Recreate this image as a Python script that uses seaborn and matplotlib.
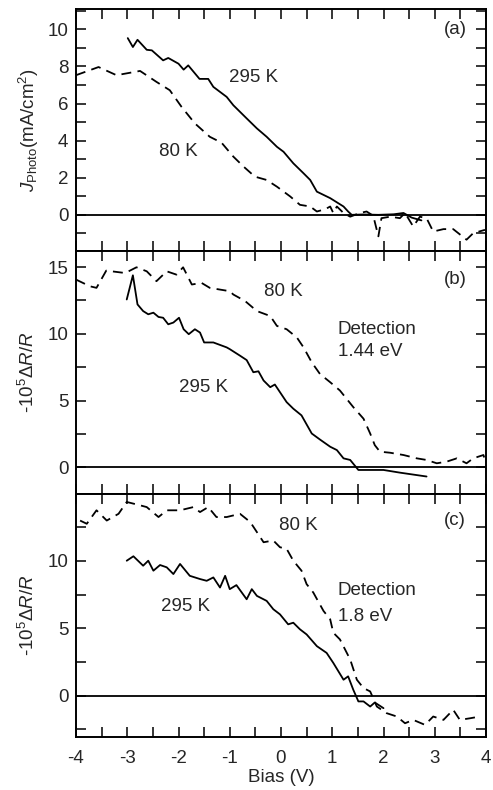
import numpy as np
import pandas as pd
import matplotlib
matplotlib.use("Agg")
import matplotlib.pyplot as plt
import seaborn as sns
from matplotlib.ticker import MultipleLocator

sns.set_style("ticks")
plt.rcParams['font.family'] = ['Liberation Sans', 'DejaVu Sans']
plt.rcParams['mathtext.fontset'] = 'custom'
plt.rcParams['mathtext.rm'] = 'Liberation Sans'
plt.rcParams['mathtext.it'] = 'Liberation Sans:italic'
plt.rcParams['mathtext.sf'] = 'Liberation Sans'

# ---------------- Panel (a): photocurrent ----------------
a295_x = [-2.99, -2.89, -2.80, -2.62, -2.52, -2.30, -2.20, -2.00, -1.90, -1.81, -1.59, -1.42,
          -1.32, -1.06, -0.93, -0.67, -0.47, -0.28, -0.08, 0.05, 0.24, 0.44, 0.57, 0.70, 0.96,
          1.22, 1.31, 1.38, 1.60, 1.90, 2.20, 2.39, 2.55, 2.74]
a295_y = [9.53, 9.05, 9.44, 8.90, 8.87, 8.33, 8.46, 8.15, 7.83, 8.06, 7.33, 7.33,
          6.90, 6.36, 5.91, 5.20, 4.66, 4.21, 3.67, 3.40, 2.78, 2.24, 1.88, 1.25, 0.90,
          0.45, 0.18, 0.00, 0.02, 0.00, 0.03, 0.10, -0.15, -0.30]
a80_x = [-4.00, -3.56, -3.21, -2.75, -2.43, -2.17, -1.94, -1.68, -1.39, -1.16, -0.93, -0.73,
         -0.51, -0.28, -0.08, 0.18, 0.37, 0.57, 0.70, 0.86, 0.96, 1.02, 1.09, 1.22, 1.35,
         1.54, 1.67, 1.80, 1.90, 1.96, 2.13, 2.32, 2.42, 2.58, 2.71, 2.84, 2.97, 3.17,
         3.36, 3.62, 3.75, 3.98]
a80_y = [7.53, 7.97, 7.53, 7.76, 7.17, 6.72, 5.82, 4.93, 4.21, 3.89, 3.14, 2.60,
         2.06, 1.88, 1.52, 0.99, 0.54, 0.45, 0.18, 0.30, 0.45, 0.10, 0.45, 0.10, -0.10,
         0.10, 0.18, -0.05, -1.16, -0.18, -0.10, -0.18, 0.10, -0.63, -0.10, -0.18, -0.90, -0.77,
         -0.77, -1.34, -0.99, -0.81]

# ---------------- Panel (b): detection 1.44 eV ----------------
b295_x = [-3.01, -2.89, -2.80, -2.69, -2.59, -2.49, -2.39, -2.30, -2.20, -2.10, -1.99, -1.90,
          -1.80, -1.68, -1.58, -1.50, -1.32, -1.06, -1.00, -0.80, -0.67, -0.54, -0.44, -0.34,
          -0.21, -0.12, 0.11, 0.24, 0.40, 0.60, 0.76, 0.96, 1.09, 1.22, 1.35, 1.51, 2.00,
          2.32, 2.84]
b295_y = [12.57, 14.38, 12.20, 11.70, 11.46, 11.58, 11.26, 11.20, 10.71, 10.84, 11.20, 10.34,
          9.97, 10.34, 10.09, 9.35, 9.35, 8.98, 8.85, 8.36, 8.03, 7.12, 7.19, 6.50,
          6.00, 6.20, 4.88, 4.39, 3.89, 2.53, 2.08, 1.54, 1.29, 0.67, 0.55, -0.20, -0.20,
          -0.40, -0.69]
b80_x = [-4.00, -3.73, -3.60, -3.41, -3.04, -2.82, -2.62, -2.43, -2.23, -2.04, -1.91, -1.74,
         -1.55, -1.39, -1.19, -1.00, -0.93, -0.70, -0.47, -0.21, -0.08, 0.11, 0.31, 0.44,
         0.60, 0.76, 0.96, 1.15, 1.41, 1.61, 1.74, 1.83, 1.93, 2.13, 2.39, 2.65, 2.84,
         3.04, 3.23, 3.43, 3.62, 3.75, 3.95, 4.00]
b80_y = [14.06, 13.56, 13.44, 14.73, 14.55, 14.98, 14.68, 13.94, 14.68, 14.43, 14.98, 13.69,
         13.81, 13.44, 13.31, 13.19, 12.94, 12.45, 11.70, 11.33, 10.59, 10.34, 9.72, 8.98,
         7.86, 6.99, 6.37, 5.75, 4.51, 3.64, 2.53, 1.66, 1.17, 1.09, 0.92, 0.67, 0.55,
         0.30, 0.42, 0.67, 0.30, 0.67, 0.92, 0.30]

# ---------------- Panel (c): detection 1.8 eV ----------------
c295_x = [-3.01, -2.88, -2.69, -2.59, -2.49, -2.36, -2.23, -2.10, -1.97, -1.78, -1.58, -1.45,
          -1.32, -1.19, -1.09, -1.00, -0.87, -0.67, -0.57, -0.47, -0.28, -0.15, -0.02, 0.14,
          0.24, 0.37, 0.50, 0.70, 0.89, 1.02, 1.22, 1.31, 1.41, 1.51, 1.61, 1.74, 1.83, 2.00]
c295_y = [10.02, 10.35, 9.65, 10.02, 9.28, 9.70, 9.53, 9.03, 9.78, 8.90, 8.66, 8.53,
          8.78, 8.03, 8.90, 7.91, 8.21, 7.16, 7.91, 7.41, 7.04, 6.42, 6.04, 5.30,
          5.42, 4.93, 4.55, 3.68, 3.18, 2.44, 1.19, 1.44, 0.45, -0.42, -0.42, -0.80, -0.50, -0.92]
c80_x = [-3.92, -3.79, -3.60, -3.40, -3.17, -3.01, -2.75, -2.62, -2.39, -2.23, -1.97, -1.71,
         -1.58, -1.42, -1.26, -1.06, -0.80, -0.60, -0.47, -0.34, -0.15, -0.02, 0.11, 0.24,
         0.40, 0.50, 0.63, 0.83, 0.96, 1.02, 1.15, 1.35, 1.48, 1.61, 1.74, 1.87, 2.06,
         2.26, 2.42, 2.58, 2.81, 2.97, 3.17, 3.36, 3.49, 3.69, 3.88]
c80_y = [13.00, 12.76, 13.76, 13.00, 13.50, 14.38, 14.13, 14.00, 13.26, 13.76, 13.76, 14.00,
         13.63, 14.00, 13.26, 13.26, 13.50, 12.89, 12.14, 11.39, 11.52, 11.02, 10.90, 10.02,
         9.28, 8.28, 7.66, 6.29, 5.67, 4.68, 4.18, 2.69, 1.19, 0.57, 0.32, -0.80, -1.29,
         -1.54, -2.04, -1.79, -2.16, -1.54, -1.79, -1.04, -1.79, -1.67, -1.54]

x_ticks = [-4, -3, -2, -1, 0, 1, 2, 3, 4]

W, H = 493, 790
fig = plt.figure(figsize=(W / 100, H / 100), dpi=100)
left, right = 76 / W, 486 / W
bounds = [(9, 251), (251, 494), (494, 737)]
axes = []
for (t, b) in bounds:
    ax = fig.add_axes([left, 1 - b / H, right - left, (b - t) / H])
    axes.append(ax)

FS = 13.5
dash = (0, (5.5, 3.5))
lw = 1.3

def draw(ax, x295, y295, x80, y80):
    d295 = pd.DataFrame({'Bias': x295, 'val': y295})
    d80 = pd.DataFrame({'Bias': x80, 'val': y80})
    sns.lineplot(data=d295, x='Bias', y='val', ax=ax, color='black', lw=lw,
                 sort=False, estimator=None)
    sns.lineplot(data=d80, x='Bias', y='val', ax=ax, color='black', lw=lw,
                 linestyle=dash, sort=False, estimator=None)
    ax.axhline(0, color='black', lw=1.3, zorder=1)
    ax.set_xlim(-4, 4)
    ax.xaxis.set_major_locator(MultipleLocator(1))
    ax.xaxis.set_minor_locator(MultipleLocator(0.5))
    ax.tick_params(which='both', direction='in', top=True, right=True,
                   labelsize=FS, width=1.1, color='black')
    ax.tick_params(which='both', length=7)
    ax.tick_params(axis='y', pad=5.5)
    ax.tick_params(axis='x', pad=9.5)
    for s in ax.spines.values():
        s.set_linewidth(1.4)
        s.set_color('black')

axA, axB, axC = axes
draw(axA, a295_x, a295_y, a80_x, a80_y)
axA.set_ylim(-1.95, 11.1)
axA.yaxis.set_major_locator(MultipleLocator(2))
axA.yaxis.set_minor_locator(MultipleLocator(1))
axA.set_ylabel(r'$J_{\mathrm{Photo}}$(mA/cm$^2$)', fontsize=FS, labelpad=5)
axA.text(-0.53, 7.4, '295 K', fontsize=FS, ha='center', va='center')
axA.text(-2.01, 3.4, '80 K', fontsize=FS, ha='center', va='center')
axA.text(3.4, 10.0, '(a)', fontsize=FS, ha='center', va='center')

draw(axB, b295_x, b295_y, b80_x, b80_y)
axB.set_ylim(-2.0, 16.2)
axB.yaxis.set_major_locator(MultipleLocator(5))
axB.yaxis.set_minor_locator(MultipleLocator(2.5))
axB.set_ylabel(r'-10$^5$$\Delta$$R$/$R$', fontsize=FS, labelpad=7)
axB.text(0.04, 13.2, '80 K', fontsize=FS, ha='center', va='center')
axB.text(1.11, 10.3, 'Detection', fontsize=FS, ha='left', va='center')
axB.text(1.11, 8.65, '1.44 eV', fontsize=FS, ha='left', va='center')
axB.text(-1.52, 6.0, '295 K', fontsize=FS, ha='center', va='center')
axB.text(3.4, 14.1, '(b)', fontsize=FS, ha='center', va='center')

draw(axC, c295_x, c295_y, c80_x, c80_y)
axC.set_ylim(-3.06, 14.97)
axC.yaxis.set_major_locator(MultipleLocator(5))
axC.yaxis.set_minor_locator(MultipleLocator(2.5))
axC.set_ylabel(r'-10$^5$$\Delta$$R$/$R$', fontsize=FS, labelpad=7)
axC.text(0.33, 12.6, '80 K', fontsize=FS, ha='center', va='center')
axC.text(1.11, 7.8, 'Detection', fontsize=FS, ha='left', va='center')
axC.text(1.11, 5.9, '1.8 eV', fontsize=FS, ha='left', va='center')
axC.text(-1.87, 6.6, '295 K', fontsize=FS, ha='center', va='center')
axC.text(3.4, 13.0, '(c)', fontsize=FS, ha='center', va='center')

for ax in (axA, axB):
    ax.set_xlabel('')
    ax.tick_params(labelbottom=False)
axC.set_xticks(x_ticks)
axC.set_xticklabels([str(v) for v in x_ticks])
axC.set_xlabel('Bias (V)', fontsize=FS, labelpad=1)

fig.savefig('out.png', dpi=100)
